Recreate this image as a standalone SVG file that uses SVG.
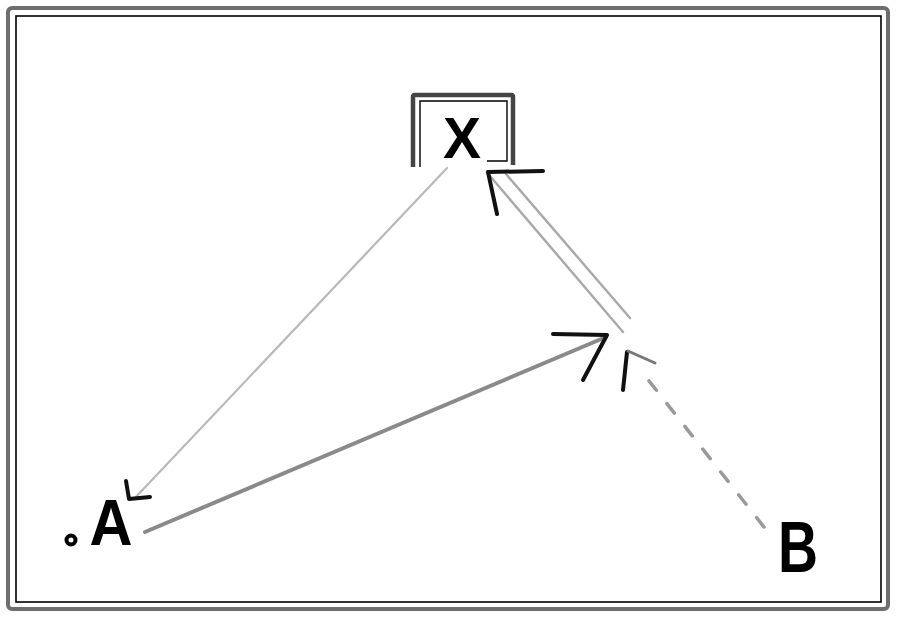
<svg xmlns="http://www.w3.org/2000/svg" width="900" height="620" viewBox="0 0 900 620">
<style>
.lbl{font-family:"Liberation Sans","DejaVu Sans",Arial,sans-serif;font-weight:bold;fill:#000;}
.thin{fill:none;stroke:#b8b8b8;stroke-width:2.2;stroke-linecap:round;}
.mid{fill:none;stroke:#8a8a8a;stroke-width:4;stroke-linecap:round;}
.dbl{fill:none;stroke:#a8a8a8;stroke-width:2.4;stroke-linecap:round;}
.dash{fill:none;stroke:#9a9a9a;stroke-width:3.5;stroke-dasharray:12 17;stroke-linecap:round;}
.head{fill:none;stroke:#111;stroke-width:4;stroke-linecap:round;stroke-linejoin:round;}
.headg{fill:none;stroke:#777;stroke-width:3;stroke-linecap:round;}
</style>
<rect x="0" y="0" width="900" height="620" fill="#fff"/>
<g id="frame">
<rect x="8" y="8" width="880" height="601" rx="4" fill="none" stroke="#6e6e6e" stroke-width="4"/>
<rect x="16" y="16" width="865" height="586" fill="none" stroke="#000" stroke-width="1.6"/>
</g>
<g id="connectors">
<line class="thin" x1="447" y1="168" x2="134" y2="499"/>
<polyline class="head" points="126,481 129,499 150,497" stroke-width="3"/>
<line class="mid" x1="145" y1="532" x2="606" y2="337"/>
<polyline class="head" points="553,334 607,335 583,380"/>
<line class="dash" x1="764" y1="527" x2="642" y2="372"/>
<polyline class="head" points="623,390 627,352"/>
<line class="headg" x1="628" y1="351" x2="655" y2="363"/>
<line class="dbl" x1="623" y1="332" x2="490" y2="176"/>
<line class="dbl" x1="630" y1="318" x2="506" y2="174"/>
<polyline class="head" points="497,214 488,172 543,171"/>
</g>
<g id="node-X">
<path d="M413,167 V97 Q413,95 415,95 H511 Q513,95 513,97 V165" fill="none" stroke="#444" stroke-width="4.5" stroke-linejoin="round"/>
<path d="M420,167 V101 H507 V161 H487" fill="none" stroke="#000" stroke-width="1.4"/>
<text class="lbl" x="462" y="158" font-size="57" text-anchor="middle" textLength="38" lengthAdjust="spacingAndGlyphs">X</text>
</g>
<g id="node-A">
<circle cx="71" cy="540" r="4.5" fill="#fff" stroke="#000" stroke-width="4"/>
<text class="lbl" x="111" y="545" font-size="65" text-anchor="middle" textLength="43" lengthAdjust="spacingAndGlyphs">A</text>
</g>
<g id="node-B">
<text class="lbl" x="798" y="572" font-size="72" text-anchor="middle" textLength="40" lengthAdjust="spacingAndGlyphs">B</text>
</g>
</svg>
